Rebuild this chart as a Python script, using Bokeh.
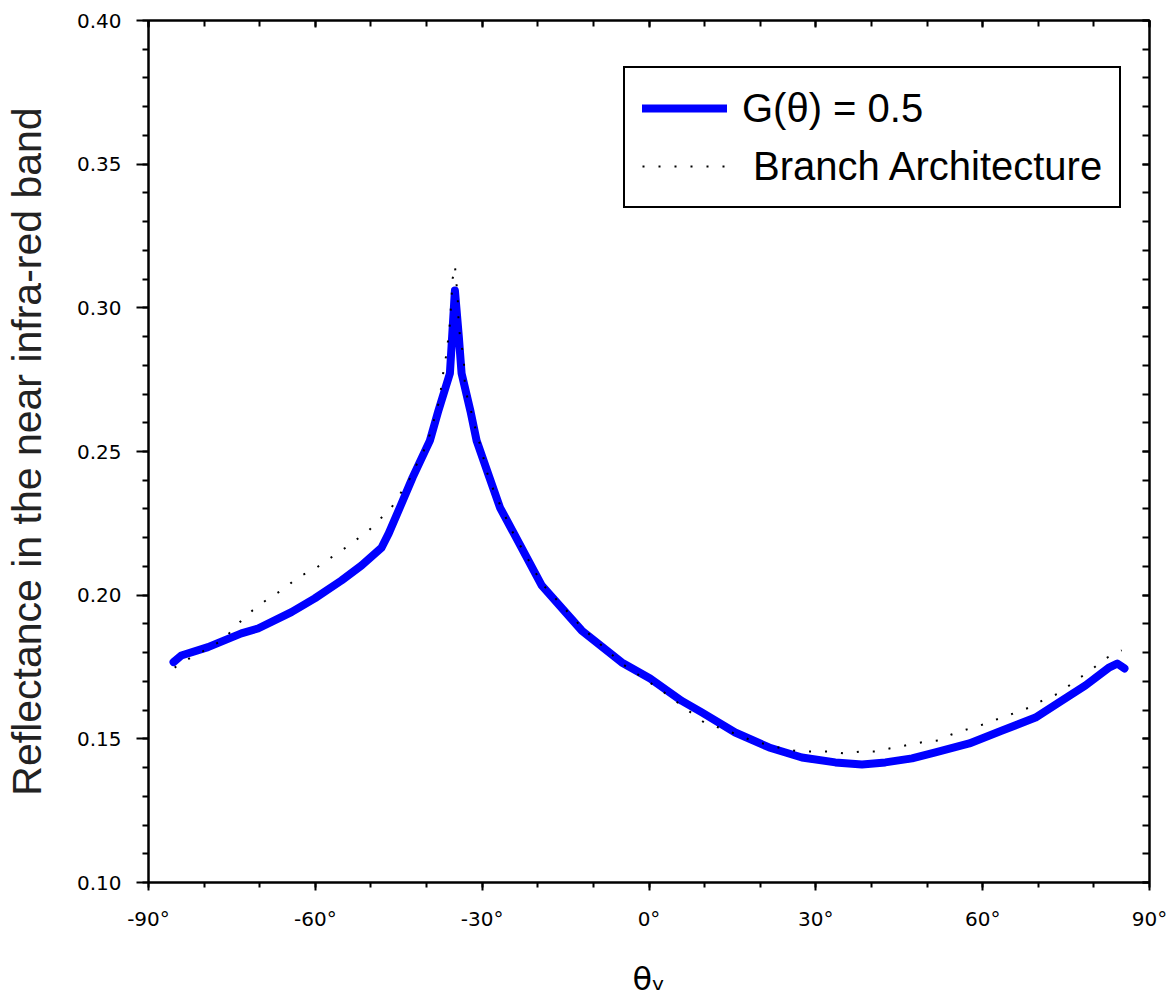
from bokeh.plotting import figure
from bokeh.models import (Range1d, LinearAxis, FixedTicker, Legend, LegendItem)
from bokeh.embed import file_html
from bokeh.resources import INLINE

# ---- data ----
g_theta = [-85.5, -84.1, -79.3, -73.3, -70.3, -64.3, -60.1, -55.3, -51.7, -48.1,
           -46.8, -44.8, -42.5, -39.4, -37.9, -35.8, -35.4, -34.9, -34.2, -33.7,
           -32.1, -31.0, -28.7, -26.8, -24.3, -19.3, -12.1, -4.9, 0.2, 5.9,
           9.5, 15.5, 21.6, 27.5, 33.5, 38.3, 42.5, 47.3, 51.5, 57.6,
           63.5, 69.5, 74.3, 78.5, 82.8, 84.2, 85.5]
g_refl = [0.1767, 0.1790, 0.1819, 0.1867, 0.1884, 0.1941, 0.1989, 0.2051, 0.2103, 0.2165,
          0.2215, 0.2305, 0.2410, 0.2538, 0.2640, 0.2772, 0.2900, 0.3060, 0.2900, 0.2772,
          0.2640, 0.2538, 0.2410, 0.2305, 0.2215, 0.2034, 0.1877, 0.1766, 0.1710, 0.1632,
          0.1592, 0.1522, 0.1470, 0.1435, 0.1418, 0.1411, 0.1418, 0.1432, 0.1453, 0.1484,
          0.1529, 0.1574, 0.1634, 0.1686, 0.1749, 0.1762, 0.1745]

b_theta = [-85.3, -82.4, -79.6, -76.5, -74.2, -71.3, -68.4, -65.5, -63.2, -60.3,
           -57.4, -54.5, -50.4, -46.3, -43.0, -41.6, -40.1, -39.2, -37.8, -37.3,
           -36.9, -36.4, -35.8, -35.3, -34.9, -34.4, -34.2, -33.8, -33.3, -33.1,
           -32.4, -31.5, -31.0, -30.1, -29.5, -28.6, -27.4, -26.3, -25.0, -19.3,
           -12.1, -4.9, 2.3, 10.1, 13.1, 18.5, 23.9, 27.0, 29.7, 32.4,
           35.3, 38.0, 40.9, 43.4, 46.1, 49.1, 52.0, 54.4, 57.2, 60.1,
           63.0, 65.5, 68.4, 71.1, 74.0, 76.5, 79.4, 82.1, 85.0]
b_refl = [0.1748, 0.1783, 0.1811, 0.1846, 0.1895, 0.1947, 0.1989, 0.2023, 0.2062, 0.2089,
          0.2128, 0.2166, 0.2225, 0.2305, 0.2406, 0.2462, 0.2518, 0.2573, 0.2671, 0.2730,
          0.2789, 0.2841, 0.2946, 0.3102, 0.3147, 0.3036, 0.2932, 0.2879, 0.2824, 0.2723,
          0.2667, 0.2608, 0.2556, 0.2511, 0.2451, 0.2396, 0.2340, 0.2295, 0.2236, 0.2041,
          0.1888, 0.1762, 0.1668, 0.1554, 0.1536, 0.1494, 0.1467, 0.1456, 0.1456, 0.1456,
          0.1449, 0.1456, 0.1456, 0.1467, 0.1477, 0.1488, 0.1494, 0.1515, 0.1533, 0.1550,
          0.1571, 0.1588, 0.1609, 0.1637, 0.1661, 0.1700, 0.1738, 0.1780, 0.1808]

x_ticks = [-90, -60, -30, 0, 30, 60, 90]
x_tick_labels = ["-90°", "-60°", "-30°", "0°", "30°", "60°", "90°"]
x_minor = [-90, -80, -70, -60, -50, -40, -30, -20, -10, 0, 10, 20, 30, 40, 50, 60, 70, 80, 90]
y_ticks = [0.10, 0.15, 0.20, 0.25, 0.30, 0.35, 0.40]
y_tick_labels = ["0.10", "0.15", "0.20", "0.25", "0.30", "0.35", "0.40"]
y_minor = [round(0.10 + 0.01 * i, 2) for i in range(31)]

series_labels = ["G(θ) = 0.5", "\u00a0Branch Architecture"]
x_title = "θ\u1d65"
y_title = "Reflectance in the near infra-red band"

TICK_FONT = "DejaVu Sans"
TEXT_FONT = "Liberation Sans"

p = figure(width=1168, height=1004,
           x_range=Range1d(-90, 90), y_range=Range1d(0.10, 0.40),
           output_backend="svg", toolbar_location=None,
           min_border_left=148, min_border_right=19,
           min_border_top=20, min_border_bottom=122)
p.background_fill_color = "white"
p.border_fill_color = "white"
p.outline_line_color = "black"
p.outline_line_alpha = 1.0
p.outline_line_width = 2
p.grid.visible = False

xt = FixedTicker(ticks=x_ticks, minor_ticks=x_minor)
yt = FixedTicker(ticks=y_ticks, minor_ticks=y_minor)

# bottom axis
xa = p.xaxis[0]
xa.ticker = xt
xa.major_label_overrides = {v: s for v, s in zip(x_ticks, x_tick_labels)}
xa.major_label_text_font = TICK_FONT
xa.major_label_text_font_size = "20px"
xa.major_label_text_color = "black"
xa.major_tick_out = 8
xa.major_tick_in = 0
xa.minor_tick_out = 5
xa.minor_tick_in = 0
xa.major_label_standoff = 16
xa.axis_line_width = 2
xa.major_tick_line_width = 2
xa.minor_tick_line_width = 2
xa.axis_label = x_title
xa.axis_label_text_font = "DejaVu Sans"
xa.axis_label_text_font_style = "normal"
xa.axis_label_text_font_size = "32px"
xa.axis_label_text_color = "black"
xa.axis_label_standoff = 26

# left axis
ya = p.yaxis[0]
ya.ticker = yt
ya.major_label_overrides = {v: s for v, s in zip(y_ticks, y_tick_labels)}
ya.major_label_text_font = TICK_FONT
ya.major_label_text_font_size = "20px"
ya.major_label_text_color = "black"
ya.major_tick_out = 12
ya.major_tick_in = 0
ya.minor_tick_out = 6
ya.minor_tick_in = 0
ya.major_label_standoff = 15
ya.axis_line_width = 2
ya.major_tick_line_width = 2
ya.minor_tick_line_width = 2
ya.axis_label = y_title
ya.axis_label_text_font = TEXT_FONT
ya.axis_label_text_font_style = "normal"
ya.axis_label_text_font_size = "41px"
ya.axis_label_text_color = "#222222"
ya.axis_label_standoff = 24

# top and right axes: inward ticks only
top = LinearAxis(ticker=xt, major_tick_in=7, major_tick_out=0, minor_tick_in=6, minor_tick_out=0,
                 axis_line_width=2, major_tick_line_width=2, minor_tick_line_width=2,
                 major_label_text_font_size="0px", major_label_standoff=0)
top.major_label_overrides = {v: "" for v in x_ticks}
right = LinearAxis(ticker=yt, major_tick_in=7, major_tick_out=0, minor_tick_in=7, minor_tick_out=0,
                   axis_line_width=2, major_tick_line_width=2, minor_tick_line_width=2,
                   major_label_text_font_size="0px", major_label_standoff=0)
right.major_label_overrides = {v: "" for v in y_ticks}
p.add_layout(top, "above")
p.add_layout(right, "right")

r1 = p.line(g_theta, g_refl, line_color="#0000FF", line_width=8, line_join="round", line_cap="round")
r2 = p.line(b_theta, b_refl, line_color="black", line_width=2, line_dash="2 14")

legend = Legend(items=[LegendItem(label=series_labels[0], renderers=[r1]),
                       LegendItem(label=series_labels[1], renderers=[r2])],
                location=(475, 674), margin=0, padding=17, spacing=12,
                glyph_width=85, glyph_height=46, label_standoff=15,
                label_text_font=TEXT_FONT, label_text_font_size="40px",
                label_text_color="black",
                border_line_color="black", border_line_alpha=1.0, border_line_width=2,
                background_fill_color="white", background_fill_alpha=1.0)
p.add_layout(legend)

open("out.html", "w").write(file_html(p, INLINE))
